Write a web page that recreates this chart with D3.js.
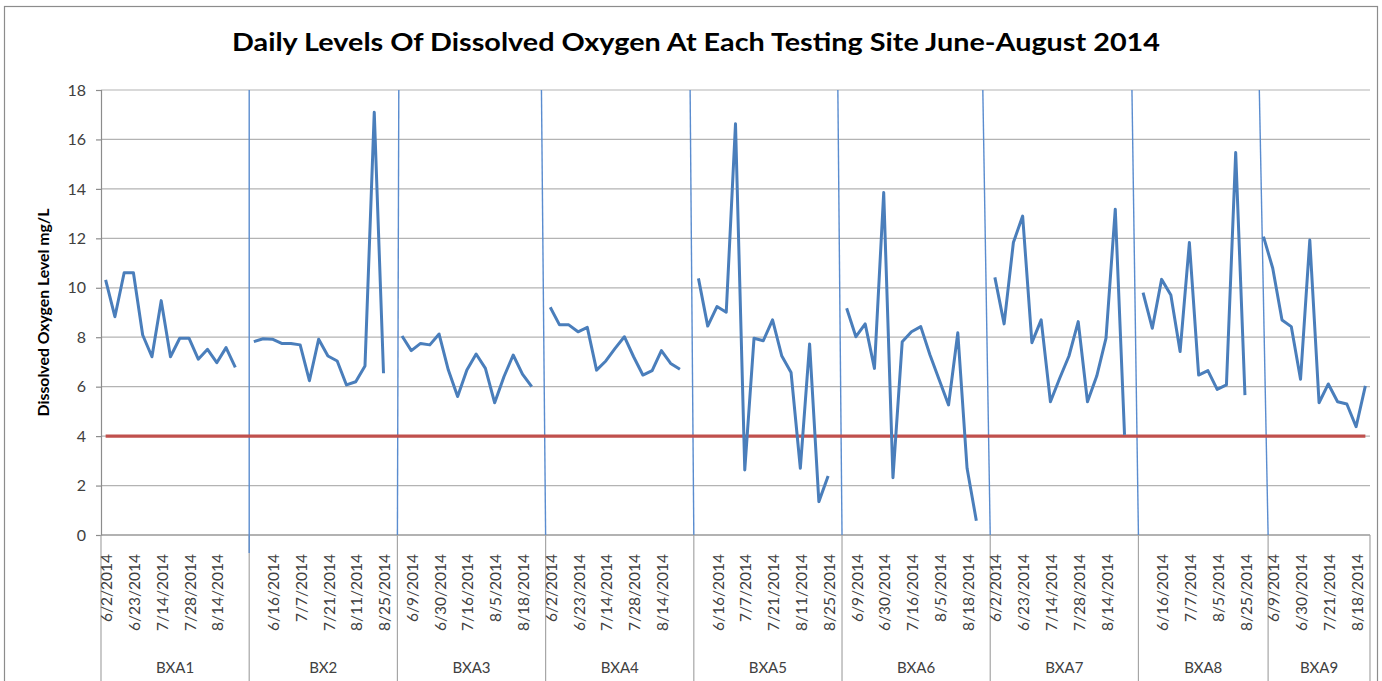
<!DOCTYPE html>
<html>
<head>
<meta charset="utf-8">
<script src="https://cdnjs.cloudflare.com/ajax/libs/d3/7.8.5/d3.min.js"></script>
<style>
    body { margin: 0; background: #fff; }
    text { font-family: Lato, "Open Sans", sans-serif; }
</style>
</head>
<body>
<svg id="chart" width="1382" height="681"></svg>
<script>
// sites along the category axis and how many rows each one takes
const sites = ['BXA1', 'BX2', 'BXA3', 'BXA4', 'BXA5', 'BXA6', 'BXA7', 'BXA8', 'BXA9'];
const siteRows = [16, 16, 16, 16, 16, 16, 16, 14, 11];

// dissolved oxygen (mg/L), one list per site, null = empty row
const bxa1 = [10.32, 8.83, 10.61, 10.61, 8.09, 7.21, 9.48, 7.21, 7.96, 7.96, 7.11, 7.51, 6.97, 7.58, 6.78, null];
const bx2  = [7.82, 7.94, 7.92, 7.75, 7.75, 7.69, 6.24, 7.92, 7.24, 7.04, 6.07, 6.20, 6.84, 17.10, 6.54, null];
const bxa3 = [8.05, 7.46, 7.75, 7.69, 8.13, 6.67, 5.60, 6.67, 7.32, 6.74, 5.35, 6.40, 7.28, 6.51, 6.00, null];
const bxa4 = [9.21, 8.50, 8.50, 8.22, 8.40, 6.67, 7.04, 7.55, 8.02, 7.21, 6.47, 6.65, 7.46, 6.94, 6.70, null];
const bxa5 = [10.38, 8.45, 9.24, 9.01, 16.63, 2.63, 7.96, 7.86, 8.70, 7.24, 6.57, 2.70, 7.73, 1.35, 2.39, null];
const bxa6 = [9.17, 8.02, 8.54, 6.74, 13.85, 2.32, 7.82, 8.22, 8.43, 7.28, 6.27, 5.26, 8.18, 2.70, 0.58, null];
const bxa7 = [10.42, 8.54, 11.83, 12.90, 7.78, 8.70, 5.39, 6.34, 7.24, 8.63, 5.39, 6.43, 7.96, 13.18, 4.05, null];
const bxa8 = [9.80, 8.36, 10.34, 9.71, 7.42, 11.83, 6.47, 6.65, 5.89, 6.07, 15.47, 5.66, null, 12.07];
const bxa9 = [10.79, 8.70, 8.43, 6.30, 11.93, 5.35, 6.11, 5.39, 5.30, 4.38, 6.03];

// minimum healthy level, drawn as a second series
const threshold = 4;

// date labels, one every 3rd row ('' where the row has no date)
const tickStep = 3;
const tickLabels = [
    '6/2/2014', '6/23/2014', '7/14/2014', '7/28/2014', '8/14/2014', '',
    '6/16/2014', '7/7/2014', '7/21/2014', '8/11/2014', '8/25/2014',
    '6/9/2014', '6/30/2014', '7/16/2014', '8/5/2014', '8/18/2014',
    '6/2/2014', '6/23/2014', '7/14/2014', '7/28/2014', '8/14/2014', '',
    '6/16/2014', '7/7/2014', '7/21/2014', '8/11/2014', '8/25/2014',
    '6/9/2014', '6/30/2014', '7/16/2014', '8/5/2014', '8/18/2014',
    '6/2/2014', '6/23/2014', '7/14/2014', '7/28/2014', '8/14/2014', '',
    '6/16/2014', '7/7/2014', '8/5/2014', '8/25/2014',
    '6/9/2014', '6/30/2014', '7/21/2014', '8/18/2014'
];
const yTicks = [0, 2, 4, 6, 8, 10, 12, 14, 16, 18];

const values = [].concat(bxa1, bx2, bxa3, bxa4, bxa5, bxa6, bxa7, bxa8, bxa9);
const rows = d3.range(values.length);

const width = 1382, height = 681;
const margin = { top: 90, right: 12, bottom: 146, left: 101 };
const svg = d3.select('#chart');

// outer chart frame
svg.append('rect')
    .attr('x', 4.5).attr('y', 6.5)
    .attr('width', width - 9).attr('height', height + 20)
    .attr('fill', '#fff').attr('stroke', '#8c8c8c').attr('stroke-width', 1.2);

const x = d3.scaleBand().domain(rows).range([margin.left, width - margin.right]).padding(0);
const y = d3.scaleLinear().domain([0, 18]).range([height - margin.bottom, margin.top]);
const bw = x.bandwidth();
const cx = i => x(i) + bw / 2;

// gridlines
svg.append('g')
    .selectAll('line')
    .data(yTicks)
    .enter().append('line')
    .attr('x1', margin.left).attr('x2', width - margin.right)
    .attr('y1', d => y(d)).attr('y2', d => y(d))
    .attr('stroke', '#b3b3b3').attr('stroke-width', 1.2);

// y axis
const yAxis = svg.append('g')
    .attr('transform', `translate(${margin.left},0)`)
    .call(d3.axisLeft(y).tickValues(yTicks).tickSize(5).tickPadding(10));
yAxis.select('.domain').attr('stroke', '#8c8c8c').attr('stroke-width', 1.2);
yAxis.selectAll('.tick line').attr('stroke', '#8c8c8c').attr('stroke-width', 1.2);
yAxis.selectAll('.tick text')
    .style('font-size', '16px').attr('fill', '#404040');

svg.append('text')
    .attr('transform', `translate(49,${(y(0) + y(18)) / 2}) rotate(-90)`)
    .attr('text-anchor', 'middle')
    .style('font-size', '15.8px').style('font-weight', 'bold')
    .attr('fill', '#000')
    .text('Dissolved Oxygen Level mg/L');

// category axis: baseline, site boxes, date ticks, site names
const axisY = y(0);
const boundaries = [0];
siteRows.forEach((n, k) => boundaries.push(boundaries[k] + n));
const bx = b => b < rows.length ? x(b) : x.range()[1];

svg.append('line')
    .attr('x1', margin.left).attr('x2', width - margin.right)
    .attr('y1', axisY).attr('y2', axisY)
    .attr('stroke', '#8c8c8c').attr('stroke-width', 1.2);

svg.append('g')
    .selectAll('line')
    .data(boundaries)
    .enter().append('line')
    .attr('x1', d => bx(d)).attr('x2', d => bx(d))
    .attr('y1', axisY).attr('y2', height + 5)
    .attr('stroke', '#a6a6a6').attr('stroke-width', 1.2);

svg.append('g')
    .selectAll('text')
    .data(tickLabels)
    .enter().append('text')
    .attr('transform', (d, k) => `translate(${cx(k * tickStep) + 1},${axisY + 19}) rotate(-90)`)
    .attr('text-anchor', 'end')
    .attr('dy', '0.36em')
    .style('font-size', '15.5px')
    .attr('fill', '#404040')
    .text(d => d);

svg.append('g')
    .selectAll('text')
    .data(sites)
    .enter().append('text')
    .attr('x', (d, k) => (bx(boundaries[k]) + bx(boundaries[k + 1])) / 2)
    .attr('y', 673)
    .attr('text-anchor', 'middle')
    .style('font-size', '15px')
    .attr('fill', '#404040')
    .text(d => d);

// drawn divider lines between the sites (slightly leaning, as in the original)
const dividerLean = [0, 0.15, -0.45, -0.4, -0.45, -0.8, -0.7, -0.95];
svg.append('g')
    .selectAll('line')
    .data(boundaries.slice(1, -1))
    .enter().append('line')
    .attr('x1', (d, k) => x(d) + dividerLean[k] * bw)
    .attr('y1', y(18))
    .attr('x2', d => x(d))
    .attr('y2', (d, k) => k === 0 ? axisY + 18 : axisY)
    .attr('stroke', '#5a8ccf').attr('stroke-width', 1.4);

// threshold series
const line = d3.line()
    .defined(d => d[1] != null)
    .x(d => cx(d[0]))
    .y(d => y(d[1]));

svg.append('path')
    .datum(rows.map(i => [i, threshold]))
    .attr('d', line)
    .attr('fill', 'none')
    .attr('stroke', '#c0504d').attr('stroke-width', 3.2);

// oxygen series
svg.append('path')
    .datum(rows.map(i => [i, values[i]]))
    .attr('d', line)
    .attr('fill', 'none')
    .attr('stroke', '#4a7ebb').attr('stroke-width', 3)
    .attr('stroke-linejoin', 'round');

// title
svg.append('text')
    .attr('x', 696).attr('y', 51)
    .attr('text-anchor', 'middle')
    .attr('textLength', 928).attr('lengthAdjust', 'spacingAndGlyphs')
    .style('font-size', '25px').style('font-weight', 'bold')
    .attr('fill', '#000')
    .text('Daily Levels Of Dissolved Oxygen At Each Testing Site June-August 2014');
</script>
</body>
</html>
